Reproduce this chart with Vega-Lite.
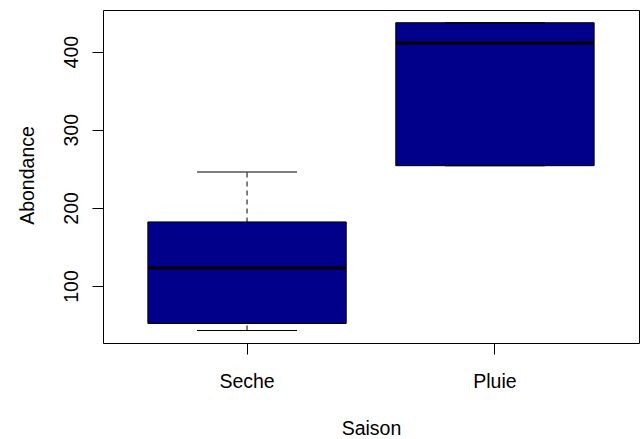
{
  "$schema": "https://vega.github.io/schema/vega-lite/v6.json",
  "autosize": "none",
  "width": 536,
  "height": 333,
  "padding": {"left": 103, "top": 10, "right": 3, "bottom": 96},
  "background": "white",
  "data": {
    "values": [
      {"Saison": "Seche", "lower": 43, "q1": 52, "median": 123, "q3": 182, "upper": 246},
      {"Saison": "Pluie", "lower": 254, "q1": 254, "median": 411, "q3": 437, "upper": 437}
    ]
  },
  "encoding": {
    "x": {
      "field": "Saison",
      "type": "nominal",
      "sort": ["Seche", "Pluie"],
      "scale": {"type": "band", "paddingInner": 0, "paddingOuter": 0.081},
      "axis": {
        "title": "Saison",
        "labelAngle": 0,
        "labelBaseline": "alphabetic",
        "labelPadding": 33,
        "tickSize": 11,
        "titleX": 268,
        "titleY": 91.6,
        "titleAlign": "center",
        "titleBaseline": "alphabetic"
      }
    }
  },
  "layer": [
    {
      "mark": {"type": "rule", "color": "black", "strokeWidth": 1, "strokeDash": [5, 4]},
      "encoding": {
        "y": {
          "field": "lower",
          "type": "quantitative",
          "title": "Abondance",
          "scale": {"domain": [27, 453.3], "nice": false, "zero": false},
          "axis": {
            "values": [100, 200, 300, 400],
            "labelAngle": -90,
            "labelAlign": "center",
            "labelBaseline": "alphabetic",
            "labelPadding": 15,
            "tickSize": 11,
            "title": "Abondance",
            "titleAngle": -90,
            "titleX": -69.7,
            "titleY": 165,
            "titleAlign": "center",
            "titleBaseline": "alphabetic"
          }
        },
        "y2": {"field": "upper"}
      }
    },
    {
      "mark": {"type": "bar", "fill": "#00008B", "stroke": "black", "strokeWidth": 1, "width": {"band": 0.8}},
      "encoding": {
        "y": {"field": "q1", "type": "quantitative", "title": "Abondance"},
        "y2": {"field": "q3"}
      }
    },
    {
      "mark": {"type": "tick", "color": "black", "size": 198, "thickness": 3, "opacity": 1},
      "encoding": {
        "y": {"field": "median", "type": "quantitative", "title": "Abondance"}
      }
    },
    {
      "mark": {"type": "tick", "color": "black", "size": 100, "thickness": 1, "opacity": 1},
      "encoding": {
        "y": {"field": "lower", "type": "quantitative", "title": "Abondance"}
      }
    },
    {
      "mark": {"type": "tick", "color": "black", "size": 100, "thickness": 1, "opacity": 1},
      "encoding": {
        "y": {"field": "upper", "type": "quantitative", "title": "Abondance"}
      }
    }
  ],
  "config": {
    "view": {"stroke": "black", "strokeWidth": 1, "fill": "white"},
    "axis": {
      "domain": false,
      "grid": false,
      "labelFont": "Liberation Sans",
      "labelFontSize": 19.5,
      "labelColor": "black",
      "titleFont": "Liberation Sans",
      "titleFontSize": 19.5,
      "titleFontWeight": "normal",
      "titleColor": "black",
      "tickColor": "black",
      "tickWidth": 1
    }
  }
}
